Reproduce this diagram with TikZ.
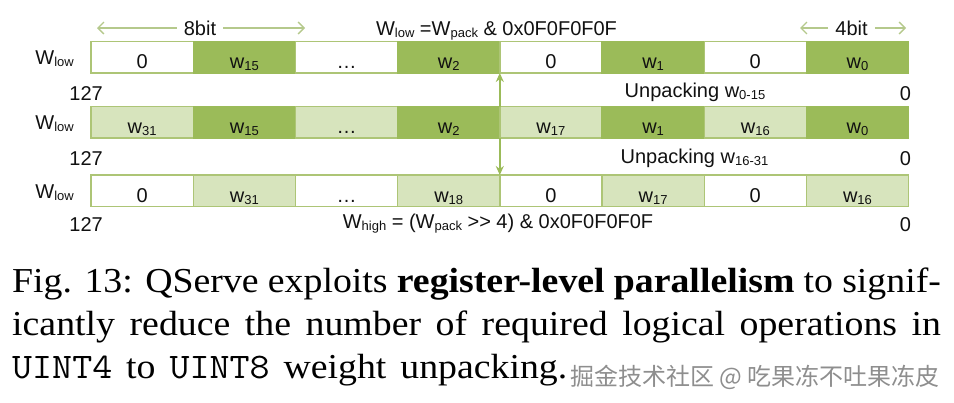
\documentclass[tikz,border=0pt]{standalone}
\usepackage{fontspec}
\setmainfont{Liberation Sans}
\newfontfamily\capserif{Liberation Serif}
\newfontfamily\cjk{Noto Sans CJK SC}
\usetikzlibrary{arrows.meta}
\definecolor{wdark}{HTML}{9BBB59}
\definecolor{wlight}{HTML}{D7E4BD}
\definecolor{wedge}{HTML}{ADC576}
\definecolor{spanline}{HTML}{B5C98C}
\definecolor{ink}{HTML}{111111}
\definecolor{stamp}{HTML}{8E8E8E}
\tikzset{
  cell/.style={draw=wedge, line width=1.4pt, minimum width=102.2pt,
               minimum height=31.5pt, inner sep=0pt, outer sep=0pt,
               text height=27pt, text depth=4.5pt, text=ink,
               font=\fontsize{20}{20}\selectfont},
  zero/.style={cell, fill=white},
  low/.style={cell, fill=wdark, draw=wdark},
  high/.style={cell, fill=wlight},
  lbl/.style={inner sep=0pt, text=ink, font=\fontsize{20}{20}\selectfont},
  bitlbl/.style={lbl, inner xsep=7pt},
  % width markers over the register: open heads, pale line
  bitspan/.style={draw=spanline, line width=1.4pt,
                  -{Straight Barb[length=6pt,width=12pt]}},
  unpackarrow/.style={draw=wdark, line width=1.5pt, -{Stealth[length=9pt,width=8pt]}},
  capline/.style={inner sep=0pt, text=black,
                  font=\capserif\fontsize{35}{35}\selectfont},
}
\newcommand{\wsub}[1]{\raisebox{-2pt}{\fontsize{13}{13}\selectfont #1}}
\newcommand{\wt}[1]{w\wsub{#1}}
\newcommand{\code}[1]{{\ttfamily\fontsize{36}{36}\selectfont #1}}
% caption lines are set a little wide, as in the figure
\newcommand{\capspread}[2]{\scalebox{1.08}[1]{\makebox[#1][s]{#2}}}

\begin{document}
\begin{tikzpicture}[x=1pt, y=-1pt]
  \useasboundingbox (0,0) rectangle (954,402);

  % --- the three registers, 8 cells of 8 bits each ------------------------
  \foreach \kind/\val [count=\k] in {zero/0, low/\wt{15}, zero/\dots, low/\wt{2},
                                     zero/0, low/\wt{1}, zero/0, low/\wt{0}}
    \node[\kind] (a\k) at ({91+(\k-0.5)*102.2}, 57.25) {\val};
  \foreach \kind/\val [count=\k] in {high/\wt{31}, low/\wt{15}, high/\dots, low/\wt{2},
                                     high/\wt{17}, low/\wt{1}, high/\wt{16}, low/\wt{0}}
    \node[\kind] (b\k) at ({91+(\k-0.5)*102.2}, 122.25) {\val};
  \foreach \kind/\val [count=\k] in {zero/0, high/\wt{31}, zero/\dots, high/\wt{18},
                                     zero/0, high/\wt{17}, zero/0, high/\wt{16}}
    \node[\kind] (c\k) at ({91+(\k-0.5)*102.2}, 190.75) {\val};

  % --- register names and bit indices --------------------------------------
  \node[lbl, anchor=base east] (wl1) at (74,64.5) {W\wsub{low}};
  \node[lbl, anchor=base east] (wl2) at (74,129.5) {W\wsub{low}};
  \node[lbl, anchor=base east] (wl3) at (74,198) {W\wsub{low}};
  \node[lbl, anchor=base east] (msb1) at (103,100) {127};
  \node[lbl, anchor=base east] (msb2) at (103,165) {127};
  \node[lbl, anchor=base east] (msb3) at (103,231) {127};
  \node[lbl, anchor=base] (lsb1) at (905.5,100) {0};
  \node[lbl, anchor=base] (lsb2) at (905.5,165) {0};
  \node[lbl, anchor=base] (lsb3) at (905.5,231) {0};

  % --- operations ----------------------------------------------------------
  \node[lbl, anchor=base] (masklow) at (496.5,35)
    {W\wsub{low} =W\wsub{pack} \& 0x0F0F0F0F};
  \node[lbl, anchor=base] (maskhigh) at (498,228)
    {W\wsub{high} = (W\wsub{pack} {>}{>} 4) \& 0x0F0F0F0F};
  \node[lbl, anchor=base] (unpacklow) at (695,97) {Unpacking w\wsub{0-15}};
  \node[lbl, anchor=base] (unpackhigh) at (694.5,163.3) {Unpacking w\wsub{16-31}};

  \draw[unpackarrow] (b5.north west) -- (a5.south west);
  \draw[unpackarrow] (b5.south west) -- (c5.north west);

  % --- bit widths ----------------------------------------------------------
  \node[bitlbl] (bit8) at (200,28) {8bit};
  \node[bitlbl] (bit4) at (851.5,28) {4bit};
  \coordinate (bit8l) at (97,28);
  \coordinate (bit8r) at (305,28);
  \coordinate (bit4l) at (800,28);
  \coordinate (bit4r) at (906,28);
  \draw[bitspan] (bit8.west) -- (bit8l);
  \draw[bitspan] (bit8.east) -- (bit8r);
  \draw[bitspan] (bit4.west) -- (bit4l);
  \draw[bitspan] (bit4.east) -- (bit4r);

  % --- caption -------------------------------------------------------------
  \node[capline, anchor=base west] (cap1) at (12,292)
    {\capspread{860pt}{Fig. 13: QServe exploits \textbf{register-level parallelism} to signif-}};
  \node[capline, anchor=base west] (cap2) at (12,335)
    {\capspread{860pt}{icantly reduce the number of required logical operations in}};
  \node[capline, anchor=base west] (cap3) at (12,378)
    {\capspread{514pt}{\code{UINT4} to \code{UINT8} weight unpacking.}};
  \node[inner sep=0pt, anchor=base west, text=stamp,
        font=\cjk\fontsize{24}{24}\selectfont] (stamp) at (570,385)
    {掘金技术社区 @ 吃果冻不吐果冻皮};
\end{tikzpicture}
\end{document}
